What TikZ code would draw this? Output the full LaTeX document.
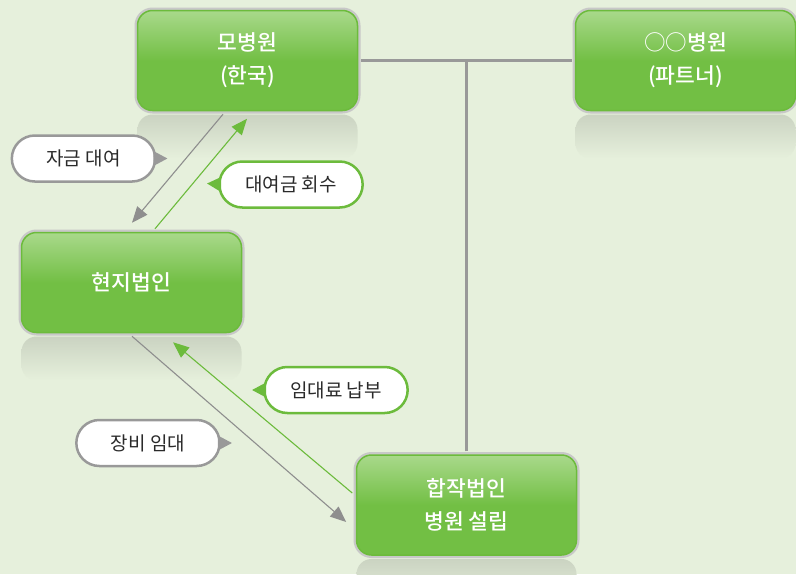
\documentclass[tikz,border=0pt]{standalone}
\usepackage{fontspec}
\setmainfont{Noto Sans CJK KR}[BoldFont={Noto Sans CJK KR Medium}]
\usetikzlibrary{calc,arrows.meta,shapes.misc}
\definecolor{bg}{HTML}{E6F0DC}
\definecolor{gtop}{HTML}{A9D98B}
\definecolor{gbot}{HTML}{72BF44}
\definecolor{gline}{HTML}{6CBB3C}
\definecolor{frame}{HTML}{C8C8C8}
\definecolor{conn}{HTML}{999999}
\definecolor{garrow}{HTML}{8E8E8E}
\definecolor{txt}{HTML}{2A2A2A}
\tikzset{
  box/.style={rectangle, rounded corners=15pt, minimum width=220pt, minimum height=100pt,
    top color=gtop, bottom color=gbot, middle color=gbot, draw=gline, line width=1.5pt,
    preaction={draw=frame, line width=6pt},
    text=white, align=center, font=\fontsize{21.5}{33}\selectfont\bfseries},
  pill/.style={rounded rectangle, minimum width=150pt, minimum height=46pt, fill=white,
    line width=2.5pt, text=txt, font=\fontsize{19}{22}\selectfont},
  graypill/.style={pill, draw=conn},
  greenpill/.style={pill, draw=gline},
  grayarrow/.style={draw=garrow, line width=1.1pt, -{Triangle[length=16pt,width=13pt]}},
  greenarrow/.style={draw=gline, line width=1.1pt, -{Triangle[length=16pt,width=13pt]}},
  connline/.style={draw=conn, line width=2.5pt},
  refl/.style={top color=black!12!bg, bottom color=bg, draw=none}
}
\begin{document}
\begin{tikzpicture}[x=1pt,y=-1pt]
\fill[bg] (0,0) rectangle (796,574);
\useasboundingbox (0,0) rectangle (796,574);
\clip (0,0) rectangle (796,574);
% reflections
\foreach \cx/\cy in {247.5/60.5, 685.5/60.5, 131.5/282.5, 466.5/505}{
  \shade[refl, rounded corners=15pt] (\cx-110,\cy+54) rectangle (\cx+110,\cy+98);
}
\node[box] (mo) at (247.5,60.5) {모병원\\(한국)};
\node[box] (pt) at (685.5,60.5) {○○병원\\(파트너)};
\node[box] (lc) at (131.5,282.5) {현지법인};
\node[box] (jv) at (466.5,505) {합작법인\\병원 설립};
% connectors
\coordinate (tj) at (jv.north |- mo.east);
\draw[connline] ($(mo.east)+(3,0)$) -- ($(pt.west)+(-3,0)$);
\draw[connline] ($(jv.north)+(0,-3)$) -- (tj);
% arrows
\draw[grayarrow] ($(mo.south)+(-24.5,3)$) -- ($(lc.north)+(0.5,-9)$);
\draw[greenarrow] ($(lc.north)+(23.5,-3)$) -- ($(mo.south)+(-0.5,7.5)$);
\draw[grayarrow] ($(lc.south)+(0.5,3)$) -- ($(jv.west)+(-9.5,17)$);
\draw[greenarrow] ($(jv.west)+(-3.5,-12)$) -- ($(lc.south)+(41.5,9)$);
% callouts
\node[graypill] (c1) at (83.5,158.5) {자금 대여};
\fill[conn] ($(c1.east)+(-3,-7.5)$) -- ($(c1.east)+(11,0)$) -- ($(c1.east)+(-3,7.5)$) -- cycle;
\node[greenpill] (c2) at (291,184.5) {대여금 회수};
\fill[gline] ($(c2.west)+(3,-7.5)$) -- ($(c2.west)+(-11,-1)$) -- ($(c2.west)+(3,7.5)$) -- cycle;
\node[greenpill] (c3) at (336,390) {임대료 납부};
\fill[gline] ($(c3.west)+(3,-7.5)$) -- ($(c3.west)+(-11,0)$) -- ($(c3.west)+(3,7.5)$) -- cycle;
\node[graypill] (c4) at (148,443) {장비 임대};
\fill[conn] ($(c4.east)+(-3,-7.5)$) -- ($(c4.east)+(11,0)$) -- ($(c4.east)+(-3,7.5)$) -- cycle;
\end{tikzpicture}
\end{document}
